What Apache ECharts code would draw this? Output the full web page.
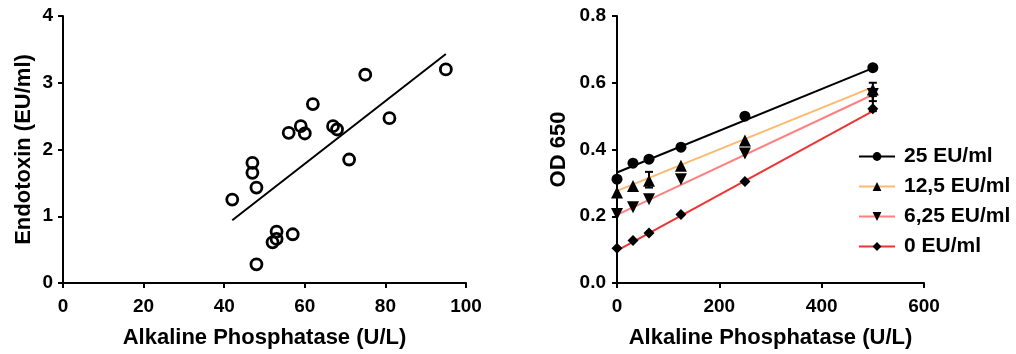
<!DOCTYPE html>
<html>
<head>
<meta charset="utf-8">
<script src="https://cdn.jsdelivr.net/npm/echarts@6/dist/echarts.min.js"></script>
<style>html,body{margin:0;padding:0;background:#fff;}#c{width:1016px;height:354px;}</style>
</head>
<body>
<div id="c"></div>
<script>
// Left panel: Endotoxin vs Alkaline Phosphatase
const leftPoints = [[42,1.25],[47,1.8],[47,1.65],[48,1.43],[48,0.28],[52,0.61],[53,0.66],[53,0.77],[57,0.73],[56,2.25],[59,2.35],[60,2.24],[62,2.68],[67,2.35],[68,2.3],[71,1.85],[75,3.12],[81,2.47],[95,3.2]];
const leftFit = [[42,0.94],[95,3.43]];
const leftXTicks = [0,20,40,60,80,100];
const leftYTicks = [0,1,2,3,4];

// Right panel: OD 650 vs Alkaline Phosphatase
const apConc = [0,31.25,62.5,125,250,500];
const seriesNames = ['25 EU/ml','12,5 EU/ml','6,25 EU/ml','0 EU/ml'];
const od25 = [0.311,0.359,0.371,0.407,0.500,0.645];
const od125 = [0.271,0.291,0.306,0.351,0.427,0.580];
const od625 = [0.207,0.227,0.251,0.311,0.388,0.566];
const od0 = [0.104,0.127,0.150,0.205,0.304,0.522];
const fit25 = [0.331,0.644];
const fit125 = [0.276,0.587];
const fit625 = [0.204,0.564];
const fit0 = [0.097,0.515];
const fitX = [0,500];
const errBars = [[62.5,0.286,0.333],[500,0.545,0.600],[500,0.515,0.560]];
const rightXTicks = [0,200,400,600];
const rightYTicks = [0,0.2,0.4,0.6,0.8];

const lineColors = ['#000000','#FDB96E','#FF8080','#EE3333'];
const symbols = ['circle','triangle','path://M0,0 L10,0 L5,9 Z','diamond'];
const symSizes = [11,12,12,11];
const odData = [od25,od125,od625,od0];
const fits = [fit25,fit125,fit625,fit0];

const FONT = 'Liberation Sans, Arial, sans-serif';
const axisLine = {show:true,lineStyle:{color:'#000',width:2}};
const axisTick = {show:true,length:5,inside:false,lineStyle:{color:'#000',width:2}};
const lbl = (m,fmt)=>({fontSize:19,fontWeight:'bold',color:'#000',fontFamily:FONT,margin:m,formatter:fmt});
const nameStyle = {fontSize:22,fontWeight:'bold',color:'#000',fontFamily:FONT};

const series = [];
series.push({type:'scatter',xAxisIndex:0,yAxisIndex:0,data:leftPoints,symbol:'circle',symbolSize:11,
  itemStyle:{color:'rgba(0,0,0,0)',borderColor:'#000',borderWidth:2.8,opacity:1},z:3});
series.push({type:'line',xAxisIndex:0,yAxisIndex:0,data:leftFit,showSymbol:false,symbol:'none',
  lineStyle:{color:'#000',width:2},z:2,silent:true});

for(let i=0;i<4;i++){
  series.push({type:'line',name:seriesNames[i],xAxisIndex:1,yAxisIndex:1,
    data:fitX.map((x,j)=>[x,fits[i][j]]),showSymbol:false,symbol:symbols[i],symbolSize:symSizes[i],
    itemStyle:{color:'#000'},lineStyle:{color:lineColors[i],width:2},z:2});
}
series.push({type:'custom',xAxisIndex:1,yAxisIndex:1,data:errBars,z:3,
  renderItem:function(params,api){
    const x = api.value(0);
    const lo = api.coord([x,api.value(1)]);
    const hi = api.coord([x,api.value(2)]);
    const w = 4;
    const st = {stroke:'#000',lineWidth:2};
    return {type:'group',children:[
      {type:'line',shape:{x1:lo[0],y1:lo[1],x2:hi[0],y2:hi[1]},style:st},
      {type:'line',shape:{x1:lo[0]-w,y1:lo[1],x2:lo[0]+w,y2:lo[1]},style:st},
      {type:'line',shape:{x1:hi[0]-w,y1:hi[1],x2:hi[0]+w,y2:hi[1]},style:st}
    ]};
  }});
for(let i=0;i<4;i++){
  series.push({type:'scatter',name:seriesNames[i],xAxisIndex:1,yAxisIndex:1,
    data:apConc.map((x,j)=>[x,odData[i][j]]),symbol:symbols[i],symbolSize:symSizes[i],
    itemStyle:{color:'#000',opacity:1},z:4});
}

const option = {
  animation:false,
  backgroundColor:'#fff',
  grid:[
    {left:63,top:16,width:403,height:268},
    {left:617,top:16,width:307,height:268}
  ],
  xAxis:[
    {type:'value',gridIndex:0,min:0,max:100,interval:20,axisLine,axisTick,splitLine:{show:false},
     axisLabel:lbl(14),name:'Alkaline Phosphatase (U/L)',nameLocation:'middle',nameGap:44,nameTextStyle:nameStyle},
    {type:'value',gridIndex:1,min:0,max:600,interval:200,axisLine,axisTick,splitLine:{show:false},
     axisLabel:lbl(14),name:'Alkaline Phosphatase (U/L)',nameLocation:'middle',nameGap:44,nameTextStyle:nameStyle}
  ],
  yAxis:[
    {type:'value',gridIndex:0,min:0,max:4,interval:1,axisLine,axisTick,splitLine:{show:false},
     axisLabel:lbl(10),name:'Endotoxin (EU/ml)',nameLocation:'middle',nameGap:28,nameTextStyle:nameStyle},
    {type:'value',gridIndex:1,min:0,max:0.8,interval:0.2,axisLine,axisTick,splitLine:{show:false},
     axisLabel:lbl(11,v=>v.toFixed(1)),name:'OD 650',nameLocation:'middle',nameGap:47,nameTextStyle:nameStyle}
  ],
  legend:{
    data:seriesNames.map(n=>({name:n})),
    orient:'vertical',left:853,top:141,itemWidth:36,itemHeight:11,itemGap:9,
    textStyle:{fontSize:21,fontWeight:'bold',color:'#000',fontFamily:FONT,padding:[0,0,0,4]},
    selectedMode:false
  },
  series
};
const chart = echarts.init(document.getElementById('c'),null,{renderer:'canvas'});
chart.setOption(option);
</script>
</body>
</html>
